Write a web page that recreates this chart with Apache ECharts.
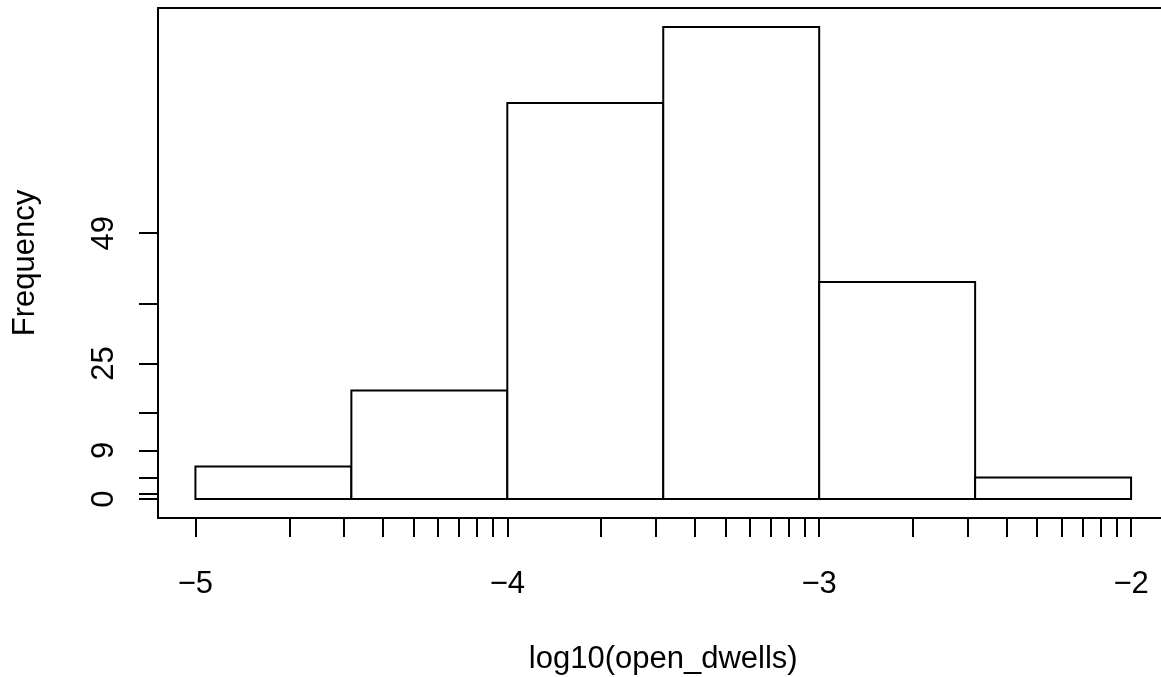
<!DOCTYPE html>
<html>
<head>
<meta charset="utf-8">
<script src="https://cdn.jsdelivr.net/npm/echarts@6/dist/echarts.min.js"></script>
<style>html,body{margin:0;padding:0;background:#fff}#c{width:1161px;height:677px}</style>
</head>
<body>
<div id="c"></div>
<script>
// Histogram bins (log10 scale) and counts
const breaks = [-5, -4.5, -4, -3.5, -3, -2.5, -2];
const counts = [6, 20, 73, 87, 40, 4];
// Axis ticks
const xMajorLabels = [-5, -4, -3, -2];
const decades = [-5, -4, -3];
const decadeMultipliers = [1, 2, 3, 4, 5, 6, 7, 8, 9, 10];
const yTicks = [0, 1, 4, 9, 16, 25, 36, 49];
const yLabels = [0, 9, 25, 49];

const xTicks = [];
decades.forEach(d => decadeMultipliers.forEach(m => {
  const v = +(d + Math.log10(m)).toFixed(6);
  if (!xTicks.includes(v)) xTicks.push(v);
}));

const binData = counts.map((c, i) => [breaks[i], breaks[i + 1], c]);
const FONT = 'Liberation Sans, Arial, Helvetica, sans-serif';
const FS = 31;
const LINE = { color: '#000', width: 2 };

const chart = echarts.init(document.getElementById('c'));
chart.setOption({
  animation: false,
  backgroundColor: '#fff',
  grid: { left: 158, top: 8, right: -7.5, bottom: 159, show: false, containLabel: false, outerBoundsMode: 'none' },
  xAxis: [{
    type: 'value', min: -5.12, max: -1.88, position: 'bottom',
    name: 'log10(open_dwells)', nameLocation: 'middle', nameGap: 126,
    nameTextStyle: { fontFamily: FONT, fontSize: FS, color: '#000' },
    splitLine: { show: false },
    axisLine: { show: true, onZero: false, lineStyle: LINE },
    axisTick: { show: true, customValues: xTicks, length: 19, inside: false, lineStyle: LINE },
    axisLabel: { show: true, customValues: xMajorLabels, margin: 51, fontFamily: FONT, fontSize: FS, color: '#000',
      formatter: v => String(v).replace('-', '\u2212') }
  }, {
    type: 'value', min: -5.12, max: -1.88, position: 'top',
    splitLine: { show: false },
    axisLine: { show: true, onZero: false, lineStyle: LINE },
    axisTick: { show: false },
    axisLabel: { show: false }
  }],
  yAxis: {
    type: 'value', min: -3.48, max: 90.48,
    name: 'Frequency', nameLocation: 'middle', nameGap: 117, nameRotate: 90,
    nameTextStyle: { fontFamily: FONT, fontSize: FS, color: '#000' },
    splitLine: { show: false },
    axisLine: { show: true, onZero: false, lineStyle: LINE },
    axisTick: { show: true, customValues: yTicks, length: 19, inside: false, lineStyle: LINE },
    axisLabel: { show: true, customValues: yLabels, rotate: 90, margin: 38.5, fontFamily: FONT, fontSize: FS, color: '#000' }
  },
  series: [{
    type: 'custom',
    xAxisIndex: 0,
    data: binData,
    encode: { x: [0, 1], y: 2 },
    renderItem: function (params, api) {
      const p0 = api.coord([api.value(0), 0]);
      const p1 = api.coord([api.value(1), api.value(2)]);
      return {
        type: 'rect',
        shape: { x: p0[0], y: p1[1], width: p1[0] - p0[0], height: p0[1] - p1[1] },
        style: { fill: '#fff', stroke: '#000', lineWidth: 2 }
      };
    }
  }]
});
</script>
</body>
</html>
